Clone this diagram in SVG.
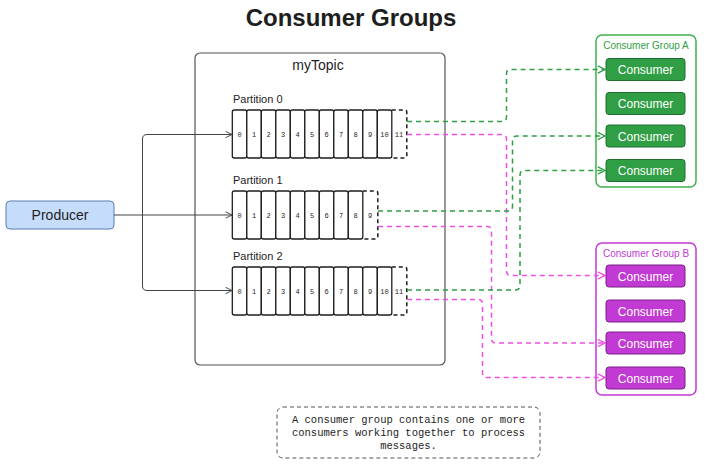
<svg xmlns="http://www.w3.org/2000/svg" width="706" height="466" viewBox="0 0 706 466">
<defs>
<style>
.t{font-family:"Liberation Sans",Arial,sans-serif}
.cell{fill:#fff;stroke:#1e1e1e;stroke-width:1.3}
.dcell{fill:none;stroke:#1e1e1e;stroke-width:1.5;stroke-dasharray:4 3}
.num{font-family:"Liberation Mono",monospace;font-size:7px;fill:#1e1e1e;text-anchor:middle}
.plabel{font-family:"Liberation Sans",Arial,sans-serif;font-size:11px;fill:#1e1e1e}
.ca{fill:#2f9e44;stroke:#1f6e30;stroke-width:1}
.cb{fill:#c13ad3;stroke:#7b2088;stroke-width:1}
.ctext{font-family:"Liberation Sans",Arial,sans-serif;font-size:12px;fill:#fff;text-anchor:middle}
.g{fill:none;stroke:#2f9e44;stroke-width:1.5;stroke-dasharray:5 4}
.p{fill:none;stroke:#f04fe3;stroke-width:1.5;stroke-dasharray:5 4}
.k{fill:none;stroke:#444;stroke-width:1}
</style>
<marker id="ak" viewBox="0 0 10 10" refX="9" refY="5" markerWidth="8" markerHeight="8" orient="auto" markerUnits="userSpaceOnUse"><path d="M1,1 L9,5 L1,9" fill="none" stroke="#444" stroke-width="1.2"/></marker>
<marker id="ag" viewBox="0 0 10 10" refX="9" refY="5" markerWidth="9" markerHeight="9" orient="auto" markerUnits="userSpaceOnUse"><path d="M1,1 L9,5 L1,9" fill="none" stroke="#2f9e44" stroke-width="1.5"/></marker>
<marker id="ap" viewBox="0 0 10 10" refX="9" refY="5" markerWidth="9" markerHeight="9" orient="auto" markerUnits="userSpaceOnUse"><path d="M1,1 L9,5 L1,9" fill="none" stroke="#f04fe3" stroke-width="1.5"/></marker>
</defs>
<rect width="706" height="466" fill="#fff"/>
<text class="t" x="351" y="26" font-size="24" font-weight="bold" text-anchor="middle" fill="#1e1e1e">Consumer Groups</text>

<g id="myTopic">
<rect x="195" y="53" width="250" height="312" rx="5" fill="none" stroke="#555" stroke-width="1.2"/>
<text class="t" x="318" y="70" font-size="14" text-anchor="middle" fill="#1e1e1e">myTopic</text>
</g>

<g id="partition0">
<text class="plabel" x="233" y="103">Partition 0</text>
<rect class="cell" x="232.3" y="110" width="14.5" height="48" rx="2"/>
<rect class="cell" x="246.8" y="110" width="14.5" height="48" rx="2"/>
<rect class="cell" x="261.3" y="110" width="14.5" height="48" rx="2"/>
<rect class="cell" x="275.8" y="110" width="14.5" height="48" rx="2"/>
<rect class="cell" x="290.3" y="110" width="14.5" height="48" rx="2"/>
<rect class="cell" x="304.8" y="110" width="14.5" height="48" rx="2"/>
<rect class="cell" x="319.3" y="110" width="14.5" height="48" rx="2"/>
<rect class="cell" x="333.8" y="110" width="14.5" height="48" rx="2"/>
<rect class="cell" x="348.3" y="110" width="14.5" height="48" rx="2"/>
<rect class="cell" x="362.8" y="110" width="14.5" height="48" rx="2"/>
<rect class="cell" x="377.3" y="110" width="14.5" height="48" rx="2"/>
<path class="dcell" d="M391.8,110 H404.8 Q406.8,110 406.8,112 V156 Q406.8,158 404.8,158 H391.8"/>
<text class="num" x="239.5" y="136.5">0</text><text class="num" x="254" y="136.5">1</text><text class="num" x="268.5" y="136.5">2</text><text class="num" x="283" y="136.5">3</text><text class="num" x="297.5" y="136.5">4</text><text class="num" x="312" y="136.5">5</text><text class="num" x="326.5" y="136.5">6</text><text class="num" x="341" y="136.5">7</text><text class="num" x="355.5" y="136.5">8</text><text class="num" x="370" y="136.5">9</text><text class="num" x="384.5" y="136.5">10</text><text class="num" x="399" y="136.5">11</text>
</g>

<g id="partition1">
<text class="plabel" x="233" y="184">Partition 1</text>
<rect class="cell" x="232.3" y="191" width="14.5" height="48" rx="2"/>
<rect class="cell" x="246.8" y="191" width="14.5" height="48" rx="2"/>
<rect class="cell" x="261.3" y="191" width="14.5" height="48" rx="2"/>
<rect class="cell" x="275.8" y="191" width="14.5" height="48" rx="2"/>
<rect class="cell" x="290.3" y="191" width="14.5" height="48" rx="2"/>
<rect class="cell" x="304.8" y="191" width="14.5" height="48" rx="2"/>
<rect class="cell" x="319.3" y="191" width="14.5" height="48" rx="2"/>
<rect class="cell" x="333.8" y="191" width="14.5" height="48" rx="2"/>
<rect class="cell" x="348.3" y="191" width="14.5" height="48" rx="2"/>
<path class="dcell" d="M362.8,191 H375.8 Q377.8,191 377.8,193 V237 Q377.8,239 375.8,239 H362.8"/>
<text class="num" x="239.5" y="217.5">0</text><text class="num" x="254" y="217.5">1</text><text class="num" x="268.5" y="217.5">2</text><text class="num" x="283" y="217.5">3</text><text class="num" x="297.5" y="217.5">4</text><text class="num" x="312" y="217.5">5</text><text class="num" x="326.5" y="217.5">6</text><text class="num" x="341" y="217.5">7</text><text class="num" x="355.5" y="217.5">8</text><text class="num" x="370" y="217.5">9</text>
</g>

<g id="partition2">
<text class="plabel" x="233" y="260">Partition 2</text>
<rect class="cell" x="232.3" y="267" width="14.5" height="48" rx="2"/>
<rect class="cell" x="246.8" y="267" width="14.5" height="48" rx="2"/>
<rect class="cell" x="261.3" y="267" width="14.5" height="48" rx="2"/>
<rect class="cell" x="275.8" y="267" width="14.5" height="48" rx="2"/>
<rect class="cell" x="290.3" y="267" width="14.5" height="48" rx="2"/>
<rect class="cell" x="304.8" y="267" width="14.5" height="48" rx="2"/>
<rect class="cell" x="319.3" y="267" width="14.5" height="48" rx="2"/>
<rect class="cell" x="333.8" y="267" width="14.5" height="48" rx="2"/>
<rect class="cell" x="348.3" y="267" width="14.5" height="48" rx="2"/>
<rect class="cell" x="362.8" y="267" width="14.5" height="48" rx="2"/>
<rect class="cell" x="377.3" y="267" width="14.5" height="48" rx="2"/>
<path class="dcell" d="M391.8,267 H404.8 Q406.8,267 406.8,269 V313 Q406.8,315 404.8,315 H391.8"/>
<text class="num" x="239.5" y="293.5">0</text><text class="num" x="254" y="293.5">1</text><text class="num" x="268.5" y="293.5">2</text><text class="num" x="283" y="293.5">3</text><text class="num" x="297.5" y="293.5">4</text><text class="num" x="312" y="293.5">5</text><text class="num" x="326.5" y="293.5">6</text><text class="num" x="341" y="293.5">7</text><text class="num" x="355.5" y="293.5">8</text><text class="num" x="370" y="293.5">9</text><text class="num" x="384.5" y="293.5">10</text><text class="num" x="399" y="293.5">11</text>
</g>

<g id="producer">
<rect x="6" y="201" width="108" height="28" rx="4" fill="#c5dcfb" stroke="#5a7fb0" stroke-width="1"/>
<text class="t" x="60" y="220" font-size="14" text-anchor="middle" fill="#1e1e1e">Producer</text>
</g>

<g id="groupA">
<rect x="596" y="35" width="100" height="152" rx="6" fill="none" stroke="#40b04e" stroke-width="1.5"/>
<text class="t" x="646" y="49" font-size="10" text-anchor="middle" fill="#2f9e44">Consumer Group A</text>
<g id="consumerA1"><rect class="ca" x="606" y="58.5" width="79" height="22" rx="3"/><text class="ctext" x="645.5" y="74">Consumer</text></g>
<g id="consumerA2"><rect class="ca" x="606" y="92.5" width="79" height="22" rx="3"/><text class="ctext" x="645.5" y="108">Consumer</text></g>
<g id="consumerA3"><rect class="ca" x="606" y="125" width="79" height="22" rx="3"/><text class="ctext" x="645.5" y="140.5">Consumer</text></g>
<g id="consumerA4"><rect class="ca" x="606" y="159.5" width="79" height="22" rx="3"/><text class="ctext" x="645.5" y="175">Consumer</text></g>
</g>

<g id="groupB">
<rect x="596" y="243" width="100" height="152" rx="6" fill="none" stroke="#c13ad3" stroke-width="1.5"/>
<text class="t" x="646" y="257" font-size="10" text-anchor="middle" fill="#c13ad3">Consumer Group B</text>
<g id="consumerB1"><rect class="cb" x="606" y="265" width="79" height="22" rx="3"/><text class="ctext" x="645.5" y="280.5">Consumer</text></g>
<g id="consumerB2"><rect class="cb" x="606" y="300" width="79" height="22" rx="3"/><text class="ctext" x="645.5" y="315.5">Consumer</text></g>
<g id="consumerB3"><rect class="cb" x="606" y="332" width="79" height="22" rx="3"/><text class="ctext" x="645.5" y="347.5">Consumer</text></g>
<g id="consumerB4"><rect class="cb" x="606" y="367" width="79" height="22" rx="3"/><text class="ctext" x="645.5" y="382.5">Consumer</text></g>
</g>

<g id="note">
<rect x="277" y="407" width="263" height="51" rx="6" fill="none" stroke="#555" stroke-width="1" stroke-dasharray="4 3"/>
<text font-family="Liberation Mono,monospace" font-size="10.5" text-anchor="middle" fill="#1e1e1e"><tspan x="408.5" y="423">A consumer group contains one or more</tspan><tspan x="408.5" y="436">consumers working together to process</tspan><tspan x="408.5" y="449">messages.</tspan></text>
</g>

<g id="connectors">
<path class="k" d="M114,215 H140"/>
<path class="k" d="M232,134.5 H147 Q142.5,134.5 142.5,139 V286 Q142.5,290.5 147,290.5 H232" marker-end="url(#ak)"/>
<path class="k" d="M140,215 H232" marker-end="url(#ak)"/>
<path class="k" d="M147,134.5 H232" marker-end="url(#ak)"/>
<path class="g" d="M407,121.5 H502 Q506.5,121.5 506.5,117 V73.5 Q506.5,69.5 510.5,69.5 H605" marker-end="url(#ag)"/>
<path class="p" d="M407,134.5 H502 Q506.5,134.5 506.5,139 V271 Q506.5,275.5 511,275.5 H605" marker-end="url(#ap)"/>
<path class="g" d="M378,211 H508 Q512.5,211 512.5,206.5 V140.5 Q512.5,136 517,136 H605" marker-end="url(#ag)"/>
<path class="p" d="M378,226.5 H487.5 Q491.5,226.5 491.5,230.5 V338.5 Q491.5,343 496,343 H605" marker-end="url(#ap)"/>
<path class="g" d="M407,290 H515.5 Q520,290 520,285.5 V175 Q520,170.5 524.5,170.5 H605" marker-end="url(#ag)"/>
<path class="p" d="M407,299.5 H478 Q482.5,299.5 482.5,304 V373 Q482.5,377.5 487,377.5 H605" marker-end="url(#ap)"/>
</g>
</svg>
